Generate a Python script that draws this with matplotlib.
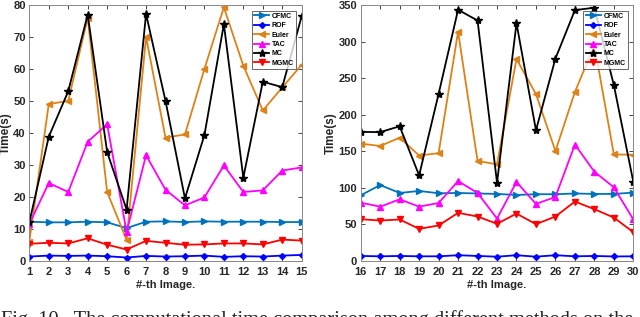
import matplotlib
matplotlib.use("Agg")
import matplotlib.pyplot as plt
import numpy as np

x1 = list(range(1, 16))
x2 = list(range(16, 31))

cfmc1 = [12.2, 12.0, 12.0, 12.2, 12.0, 10.2, 12.2, 12.3, 12.1, 12.3, 12.2, 12.2, 12.2, 12.1, 12.1]
rof1 = [1.3, 1.6, 1.5, 1.6, 1.4, 1.0, 1.5, 1.3, 1.4, 1.6, 1.2, 1.4, 1.3, 1.6, 1.8]
euler1 = [6.0, 49.0, 50.0, 76.0, 21.5, 6.5, 70.0, 38.5, 39.5, 60.0, 79.3, 61.0, 47.0, 54.2, 61.3]
tac1 = [11.5, 24.3, 21.5, 37.2, 42.7, 9.0, 33.0, 22.2, 17.3, 19.8, 29.8, 21.5, 22.0, 28.2, 29.2]
mc1 = [12.0, 38.8, 53.0, 77.0, 34.0, 16.0, 77.2, 50.0, 19.5, 39.3, 74.0, 26.0, 56.0, 54.3, 76.5]
mgmc1 = [5.3, 5.6, 5.4, 7.0, 5.0, 3.5, 6.2, 5.6, 5.0, 5.1, 5.4, 5.4, 5.1, 6.6, 6.3]

cfmc2 = [89.5, 103.6, 92.7, 95.5, 92.3, 92.7, 92.0, 91.4, 90.0, 91.0, 91.0, 92.0, 91.4, 91.4, 93.2]
rof2 = [6.5, 6.0, 6.5, 6.0, 6.0, 7.5, 6.5, 5.5, 7.5, 5.5, 7.5, 6.0, 6.5, 5.8, 6.0]
euler2 = [160.3, 157.0, 168.4, 144.0, 147.2, 313.6, 136.4, 132.0, 276.0, 228.0, 150.0, 231.0, 295.0, 145.4, 145.0]
tac2 = [79.5, 74.0, 84.0, 74.0, 79.0, 109.0, 92.7, 57.7, 107.7, 77.7, 87.3, 159.0, 121.8, 100.5, 56.4]
mc2 = [176.3, 176.0, 184.0, 116.8, 228.3, 343.5, 328.8, 106.8, 325.0, 178.6, 276.7, 343.0, 346.3, 240.3, 107.7]
mgmc2 = [56.8, 55.0, 56.4, 43.6, 48.2, 65.5, 60.5, 50.5, 64.5, 50.0, 60.5, 81.0, 70.5, 59.0, 39.0]

names = ["CFMC", "ROF", "Euler", "TAC", "MC", "MGMC"]
colors = ["#0072BD", "#0000FF", "#DE8218", "#FF00FF", "#000000", "#FF0000"]
markers = [">", "D", "<", "^", "*", "v"]
msizes = [4, 3, 4, 4, 6, 4]

plt.rcParams['font.family'] = ['Liberation Sans', 'DejaVu Sans']
plt.rcParams['font.weight'] = 'bold'

fig = plt.figure(figsize=(6.4, 3.17), dpi=100)
ax1 = fig.add_axes([0.0458, 0.1776, 0.4256, 0.8066])
ax2 = fig.add_axes([0.5636, 0.1776, 0.4260, 0.8066])

panels = [
    (ax1, x1, [cfmc1, rof1, euler1, tac1, mc1, mgmc1], (0, 80), np.arange(0, 81, 10)),
    (ax2, x2, [cfmc2, rof2, euler2, tac2, mc2, mgmc2], (0, 350), np.arange(0, 351, 50)),
]

for ax, xs, series, ylim, yt in panels:
    for name, ys, c, m, ms in zip(names, series, colors, markers, msizes):
        ax.plot(xs, ys, color=c, marker=m, markersize=ms, linewidth=1.3,
                label=name, markerfacecolor=c, markeredgecolor=c)
    ax.set_xlim(xs[0], xs[-1])
    ax.set_ylim(*ylim)
    ax.set_xticks(xs)
    ax.set_yticks(yt)
    ax.tick_params(direction='in', top=True, right=True, length=3, width=0.6,
                   labelsize=8, colors='#262626')
    ax.tick_params(axis='x', pad=4.5)
    ax.tick_params(axis='y', pad=2.5)
    for lab in ax.get_xticklabels() + ax.get_yticklabels():
        lab.set_fontweight('bold')
    for sp in ax.spines.values():
        sp.set_color('#888888')
        sp.set_linewidth(0.7)
    ax.set_xlabel('#-th Image.', fontsize=8, fontweight='bold', color='#262626', labelpad=2.5)
    ax.set_ylabel('Time(s)', fontsize=8.5, fontweight='bold', color='#262626', labelpad=1)
    leg = ax.legend(loc='upper right', fontsize=5, frameon=True, fancybox=False,
                    handlelength=2.2, handletextpad=0.4, borderpad=0.3,
                    labelspacing=0.35, borderaxespad=0.8, edgecolor='#262626')
    leg.get_frame().set_linewidth(0.6)
    for t in leg.get_texts():
        t.set_fontweight('bold')

fig.text(0.002, 0.022, "Fig. 10.  The computational time comparison among different methods on the",
         family=['Liberation Serif', 'DejaVu Serif'], fontweight='normal', fontsize=14.7,
         va='top', ha='left', color='#222222')

fig.savefig('out.png', dpi=100)
